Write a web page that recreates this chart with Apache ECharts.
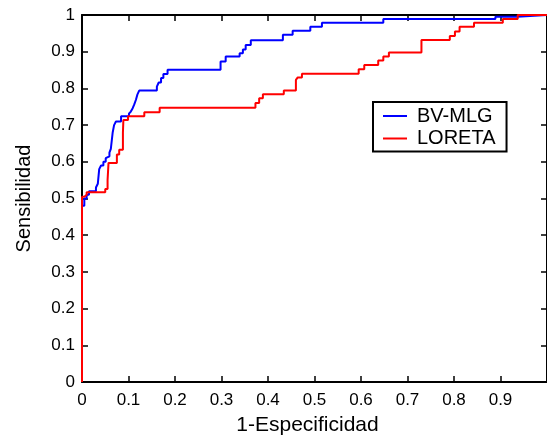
<!DOCTYPE html>
<html>
<head>
<meta charset="utf-8">
<script src="https://cdn.jsdelivr.net/npm/echarts@6/dist/echarts.min.js"></script>
<style>
  html, body { margin: 0; padding: 0; background: #fff; }
  #chart { width: 547px; height: 441px; }
</style>
</head>
<body>
<div id="chart"></div>
<script>
// ROC curves: [1 - specificity, sensitivity] at each step of the curve
const seriesNames = ['BV-MLG', 'LORETA'];

const bvMlg = [
  [0, 0], [0, 0.48], [0.005, 0.50], [0.010, 0.51], [0.015, 0.52],
  [0.030, 0.53], [0.034, 0.54], [0.037, 0.58], [0.041, 0.59], [0.046, 0.60],
  [0.051, 0.61], [0.055, 0.615], [0.059, 0.625], [0.062, 0.635], [0.066, 0.68],
  [0.069, 0.70], [0.073, 0.71], [0.084, 0.724], [0.101, 0.731], [0.105, 0.737],
  [0.109, 0.746], [0.112, 0.755], [0.116, 0.769], [0.119, 0.783], [0.123, 0.794],
  [0.161, 0.805], [0.165, 0.816], [0.170, 0.828], [0.175, 0.839], [0.184, 0.851],
  [0.298, 0.873], [0.309, 0.887], [0.339, 0.896], [0.346, 0.906], [0.352, 0.918],
  [0.363, 0.931], [0.432, 0.946], [0.453, 0.957], [0.491, 0.968], [0.516, 0.979],
  [0.648, 0.989], [0.889, 0.995], [0.936, 1.0], [1, 1]
];

const loreta = [
  [0, 0], [0, 0.505], [0.005, 0.51], [0.010, 0.517], [0.050, 0.526],
  [0.055, 0.55], [0.057, 0.597], [0.075, 0.62], [0.080, 0.633], [0.088, 0.68],
  [0.089, 0.714], [0.099, 0.724], [0.134, 0.735], [0.167, 0.747], [0.373, 0.760],
  [0.381, 0.773], [0.389, 0.784], [0.434, 0.794], [0.460, 0.823], [0.464, 0.83],
  [0.473, 0.840], [0.595, 0.852], [0.607, 0.864], [0.637, 0.876], [0.648, 0.887],
  [0.660, 0.898], [0.730, 0.932], [0.791, 0.943], [0.802, 0.955], [0.812, 0.968],
  [0.843, 0.979], [0.905, 0.989], [0.937, 1.0], [1, 1]
];

const xTickLabels = ['0', '0.1', '0.2', '0.3', '0.4', '0.5', '0.6', '0.7', '0.8', '0.9', '1'];
const yTickLabels = ['0', '0.1', '0.2', '0.3', '0.4', '0.5', '0.6', '0.7', '0.8', '0.9', '1'];
const xTitle = '1-Especificidad';
const yTitle = 'Sensibilidad';
const colors = ['#0000ff', '#ff0000'];

const FONT = '"Liberation Sans", Arial, sans-serif';
const tickIndex = v => Math.round(v * 10);

const frameAxis = {
  min: 0, max: 1, interval: 0.1,
  axisLine: { show: true, onZero: false, lineStyle: { color: '#000', width: 2 } },
  axisTick: { show: true, inside: true, length: 6, lineStyle: { color: '#000', width: 1.5 } },
  splitLine: { show: false },
  axisLabel: { show: false }
};

const chart = echarts.init(document.getElementById('chart'), null, { renderer: 'canvas' });
chart.setOption({
  animation: false,
  backgroundColor: '#fff',
  grid: { left: 82, top: 15, width: 467, height: 368, containLabel: false },
  legend: {
    orient: 'vertical',
    left: 373, top: 102,
    padding: [4, 11, 3, 10],
    backgroundColor: '#fff',
    borderColor: '#000',
    borderWidth: 2,
    borderRadius: 0,
    itemWidth: 24,
    itemHeight: 2,
    itemGap: 2.5,
    icon: 'rect',
    textStyle: { fontFamily: FONT, fontSize: 20, color: '#000', lineHeight: 20, padding: [0, 0, 0, 5] },
    data: seriesNames
  },
  xAxis: [
    Object.assign({}, frameAxis, {
      type: 'value', position: 'bottom',
      name: xTitle, nameLocation: 'middle', nameGap: 33,
      nameTextStyle: { fontFamily: FONT, fontSize: 21, color: '#000', padding: [0, 14, 0, 0] },
      axisLabel: {
        show: true, margin: 10, showMaxLabel: false,
        fontFamily: FONT, fontSize: 17, color: '#000',
        formatter: v => xTickLabels[tickIndex(v)]
      }
    }),
    Object.assign({}, frameAxis, { type: 'value', position: 'top' })
  ],
  yAxis: [
    Object.assign({}, frameAxis, {
      type: 'value', position: 'left',
      name: yTitle, nameLocation: 'middle', nameGap: 48, nameRotate: 90,
      nameTextStyle: { fontFamily: FONT, fontSize: 20, color: '#000' },
      axisLabel: {
        show: true, margin: 7,
        fontFamily: FONT, fontSize: 17, color: '#000',
        formatter: v => yTickLabels[tickIndex(v)]
      }
    }),
    Object.assign({}, frameAxis, { type: 'value', position: 'right' })
  ],
  series: [
    {
      name: seriesNames[0], type: 'line', step: 'end', data: bvMlg,
      xAxisIndex: 0, yAxisIndex: 0,
      showSymbol: false, symbol: 'none',
      lineStyle: { color: colors[0], width: 2 }, itemStyle: { color: colors[0] },
      clip: false
    },
    {
      name: seriesNames[1], type: 'line', step: 'end', data: loreta,
      xAxisIndex: 0, yAxisIndex: 0,
      showSymbol: false, symbol: 'none',
      lineStyle: { color: colors[1], width: 2 }, itemStyle: { color: colors[1] },
      clip: false
    }
  ]
});
</script>
</body>
</html>
